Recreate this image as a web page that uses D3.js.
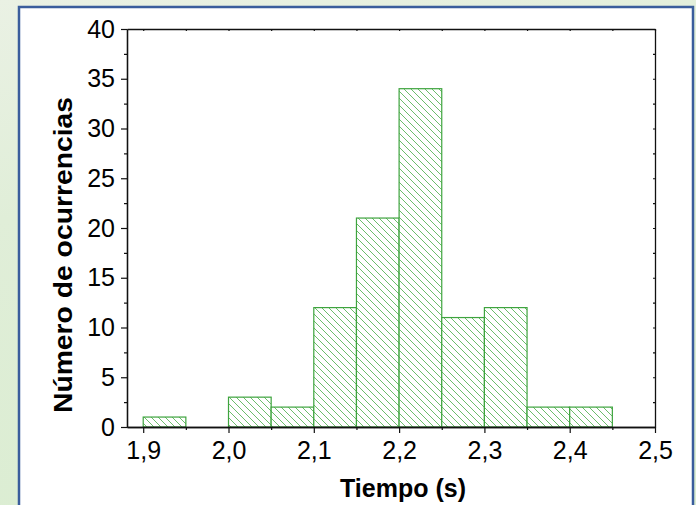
<!DOCTYPE html>
<html>
<head>
<meta charset="utf-8">
<script src="https://cdn.jsdelivr.net/npm/d3@7"></script>
<style>
  html, body { margin: 0; padding: 0; }
  body { width: 696px; height: 505px; overflow: hidden; }
  svg { display: block; }
</style>
</head>
<body>
<div id="chart"></div>
<script>
// Histogram bins (left edge of each 0.05 s bin) and how many runs fell in it
const binLeft = [1.90, 2.00, 2.05, 2.10, 2.15, 2.20, 2.25, 2.30, 2.35, 2.40]
const counts = [1, 3, 2, 12, 21, 34, 11, 12, 2, 2]
const binWidth = 0.05

const xMajor = [1.9, 2.0, 2.1, 2.2, 2.3, 2.4, 2.5]
const xMinor = [1.95, 2.05, 2.15, 2.25, 2.35, 2.45]
const yMajor = [0, 5, 10, 15, 20, 25, 30, 35, 40]
const yMinor = [2.5, 7.5, 12.5, 17.5, 22.5, 27.5, 32.5, 37.5]

const W = 696, H = 505
const plot = { left: 127, top: 29, right: 655, bottom: 427 }
const font = "Liberation Sans, Arial, sans-serif"

const svg = d3.select("#chart").append("svg")
  .attr("width", W)
  .attr("height", H)

const defs = svg.append("defs")

const bg = defs.append("linearGradient")
  .attr("id", "bg")
  .attr("x1", 0).attr("y1", 0).attr("x2", 0.3).attr("y2", 1)
bg.append("stop").attr("offset", 0).attr("stop-color", "#eaf1e4")
bg.append("stop").attr("offset", 0.4).attr("stop-color", "#e0eed8")
bg.append("stop").attr("offset", 1).attr("stop-color", "#dbedd2")

// diagonal "\" hatch for the bars
const hatch = defs.append("pattern")
  .attr("id", "hatch")
  .attr("patternUnits", "userSpaceOnUse")
  .attr("width", 7)
  .attr("height", 7)
hatch.append("rect").attr("width", 7).attr("height", 7).attr("fill", "#fff")
hatch.append("path")
  .attr("d", "M-1,-1L8,8M-1,6L1,8M6,-1L8,1")
  .attr("stroke", "#6cbd6c")
  .attr("stroke-width", 1)

// page background + white panel
svg.append("rect").attr("width", W).attr("height", H).attr("fill", "url(#bg)")
svg.append("rect")
  .attr("x", 19).attr("y", 7)
  .attr("width", 674).attr("height", H + 10)
  .attr("fill", "#fff")
  .attr("stroke", "#3a5d9c")
  .attr("stroke-width", 2.5)

const x = d3.scaleLinear()
  .domain([1.881, 2.5])
  .range([plot.left, plot.right])

const y = d3.scaleLinear()
  .domain([0, 40])
  .range([plot.bottom, plot.top])

const fmt = d => d3.format(".1f")(d).replace(".", ",")

// Bars
svg.selectAll(".bar")
  .data(binLeft.map((b, i) => ({ b, n: counts[i] })))
  .enter()
  .append("rect")
  .attr("class", "bar")
  .attr("x", d => x(d.b))
  .attr("y", d => y(d.n))
  .attr("width", d => x(d.b + binWidth) - x(d.b))
  .attr("height", d => y(0) - y(d.n))
  .attr("fill", "url(#hatch)")
  .attr("stroke", "#3ea43e")
  .attr("stroke-width", 1.2)

function styleAxis(g) {
  g.select(".domain").attr("stroke", "#111").attr("stroke-width", 1.3)
  g.selectAll(".tick line").attr("stroke", "#111").attr("stroke-width", 1.2)
  g.selectAll(".tick text").attr("fill", "#000").attr("font-size", 25).attr("font-family", font)
}

// Bottom axis
svg.append("g")
  .attr("transform", `translate(0,${plot.bottom})`)
  .call(d3.axisBottom(x).tickValues(xMinor).tickSize(3).tickFormat("").tickSizeOuter(0))
  .call(styleAxis)
svg.append("g")
  .attr("transform", `translate(0,${plot.bottom})`)
  .call(d3.axisBottom(x).tickValues(xMajor).tickSize(6).tickPadding(8).tickFormat(fmt).tickSizeOuter(0))
  .call(styleAxis)

// Left axis
svg.append("g")
  .attr("transform", `translate(${plot.left},0)`)
  .call(d3.axisLeft(y).tickValues(yMinor).tickSize(3).tickFormat("").tickSizeOuter(0))
  .call(styleAxis)
svg.append("g")
  .attr("transform", `translate(${plot.left},0)`)
  .call(d3.axisLeft(y).tickValues(yMajor).tickSize(6).tickPadding(6).tickFormat(d3.format("d")).tickSizeOuter(0))
  .call(styleAxis)

// Top and right frame with small inward ticks
svg.append("g")
  .attr("transform", `translate(0,${plot.top})`)
  .call(d3.axisTop(x).tickValues(xMajor.concat(xMinor)).tickSize(-2).tickFormat("").tickSizeOuter(0))
  .call(styleAxis)
svg.append("g")
  .attr("transform", `translate(${plot.right},0)`)
  .call(d3.axisRight(y).tickValues(yMajor.concat(yMinor)).tickSize(-2).tickFormat("").tickSizeOuter(0))
  .call(styleAxis)

// Axis titles
svg.append("text")
  .attr("x", 403)
  .attr("y", 497)
  .attr("text-anchor", "middle")
  .attr("font-family", font)
  .attr("font-weight", "bold")
  .attr("font-size", 25)
  .text("Tiempo (s)")

svg.append("text")
  .attr("transform", "translate(72,255) rotate(-90)")
  .attr("text-anchor", "middle")
  .attr("font-family", font)
  .attr("font-weight", "bold")
  .attr("font-size", 25)
  .attr("textLength", 316)
  .attr("lengthAdjust", "spacingAndGlyphs")
  .text("Número de ocurrencias")
</script>
</body>
</html>
